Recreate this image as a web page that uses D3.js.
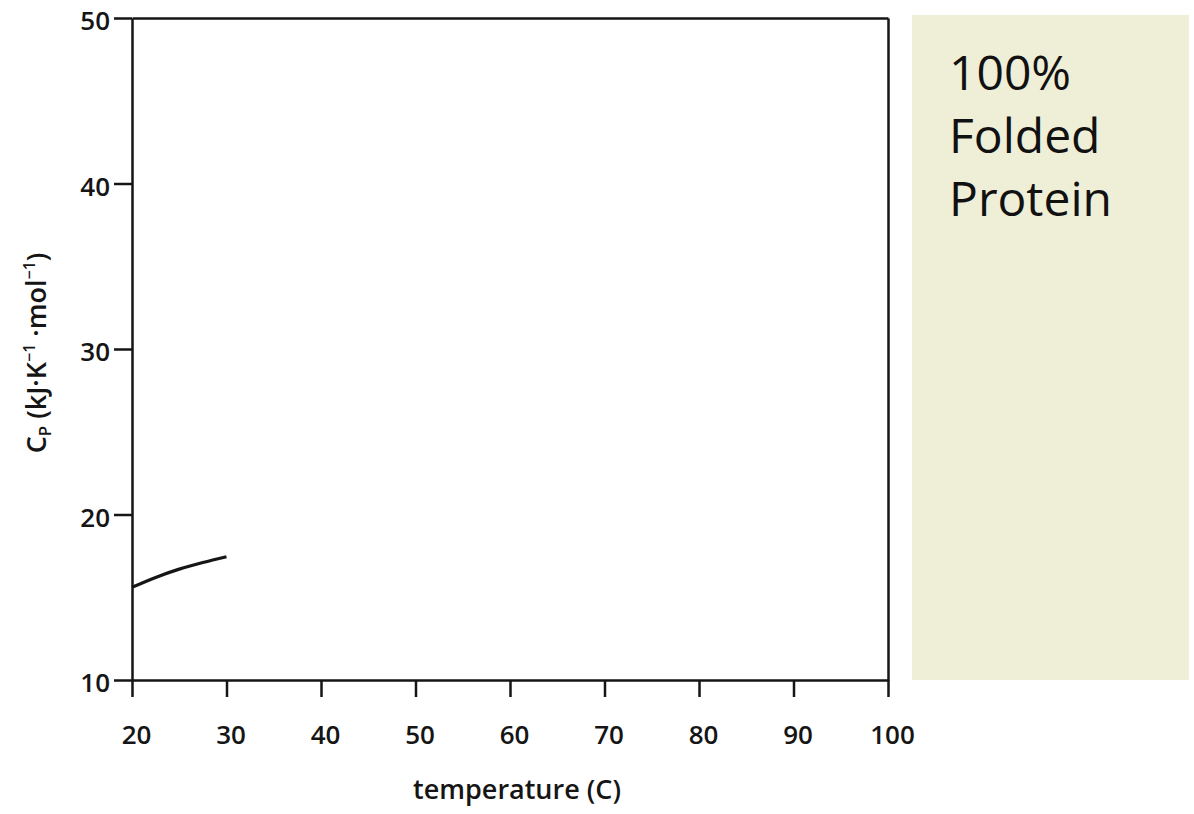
<!DOCTYPE html>
<html>
<head>
<meta charset="utf-8">
<script src="https://cdn.jsdelivr.net/npm/d3@7"></script>
<style>
  body { margin: 0; background: #fff; }
  svg { display: block; }
  .axis path, .axis line { stroke: #151515; stroke-width: 2.5; }
  .axis text { font-family: "Open Sans", sans-serif; font-weight: 600; font-size: 26px; fill: #151515; }
</style>
</head>
<body>
<div id="chart"></div>
<script>
// heat capacity of the folded protein (temperature in C, Cp in kJ/K/mol)
const temperatures = [20, 22.5, 25, 27.5, 30];
const heatCapacity = [15.6, 16.2, 16.7, 17.1, 17.45];

const xTicks = [20, 30, 40, 50, 60, 70, 80, 90, 100];
const yTicks = [10, 20, 30, 40, 50];

const panelLines = ['100%', 'Folded', 'Protein'];

const width = 1194;
const height = 814;
const margin = { top: 18, right: 306, bottom: 134, left: 132 };

const svg = d3.select('#chart')
    .append('svg')
    .attr('width', width)
    .attr('height', height);

const x = d3.scaleLinear()
    .domain([20, 100])
    .range([margin.left, width - margin.right]);

const y = d3.scaleLinear()
    .domain([10, 50])
    .range([height - margin.bottom, margin.top]);

// side panel
const panel = svg.append('g');
panel.append('rect')
    .attr('x', 912)
    .attr('y', 15)
    .attr('width', 277)
    .attr('height', 665)
    .attr('fill', '#efeed7');

panel.selectAll('text')
    .data(panelLines)
    .enter()
    .append('text')
    .attr('x', 949)
    .attr('y', (d, i) => 90 + i * 63)
    .attr('font-family', '"Open Sans", sans-serif')
    .attr('font-weight', 500)
    .attr('font-size', 48)
    .attr('fill', '#111')
    .text(d => d);

// frame (top and right)
svg.append('g')
    .attr('class', 'axis')
    .attr('transform', `translate(0, ${margin.top})`)
    .call(d3.axisTop(x).tickValues([]).tickSizeOuter(0));

svg.append('g')
    .attr('class', 'axis')
    .attr('transform', `translate(${width - margin.right}, 0)`)
    .call(d3.axisRight(y).tickValues([]).tickSizeOuter(0));

// bottom axis
const xAxis = svg.append('g')
    .attr('class', 'axis')
    .attr('transform', `translate(0, ${height - margin.bottom})`)
    .call(d3.axisBottom(x).tickValues(xTicks).tickSize(17).tickSizeOuter(0).tickPadding(29));
xAxis.selectAll('text').attr('dx', 4);

// left axis
const yAxis = svg.append('g')
    .attr('class', 'axis')
    .attr('transform', `translate(${margin.left}, 0)`)
    .call(d3.axisLeft(y).tickValues(yTicks).tickSize(18).tickSizeOuter(0).tickPadding(4));
yAxis.selectAll('text').attr('dy', '0.45em');

// axis titles
svg.append('text')
    .attr('x', 517)
    .attr('y', 799)
    .attr('text-anchor', 'middle')
    .attr('font-family', '"Open Sans", sans-serif')
    .attr('font-weight', 600)
    .attr('font-size', 27)
    .attr('fill', '#151515')
    .text('temperature (C)');

const yTitle = svg.append('text')
    .attr('transform', 'translate(46, 353) rotate(-90)')
    .attr('text-anchor', 'middle')
    .attr('font-family', '"Open Sans", sans-serif')
    .attr('font-weight', 600)
    .attr('font-size', 27)
    .attr('fill', '#151515');
yTitle.append('tspan').text('C');
yTitle.append('tspan').attr('font-size', 17).attr('dy', 5).text('P');
yTitle.append('tspan').attr('dy', -5).text(' (kJ·K');
yTitle.append('tspan').attr('font-size', 16).attr('dy', -11).text('−1');
yTitle.append('tspan').attr('dy', 11).text(' ·mol');
yTitle.append('tspan').attr('font-size', 16).attr('dy', -11).text('−1');
yTitle.append('tspan').attr('dy', 11).text(')');

// curve
const line = d3.line()
    .x((d, i) => x(temperatures[i]))
    .y(d => y(d))
    .curve(d3.curveMonotoneX);

svg.append('path')
    .datum(heatCapacity)
    .attr('d', line)
    .attr('fill', 'none')
    .attr('stroke', '#151515')
    .attr('stroke-width', 3.2);
</script>
</body>
</html>
